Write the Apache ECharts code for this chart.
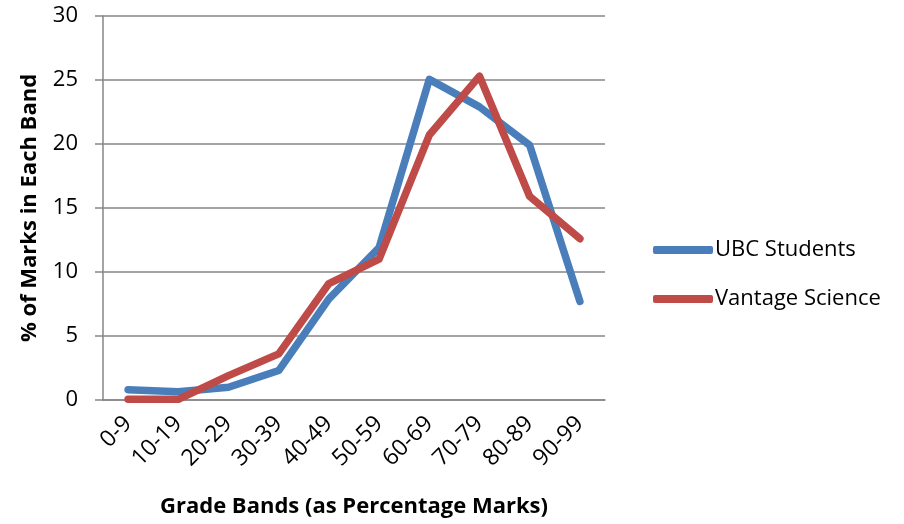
<!DOCTYPE html>
<html>
<head>
<meta charset="utf-8">
<script src="https://cdn.jsdelivr.net/npm/echarts@6/dist/echarts.min.js"></script>
<style>
  html, body { margin: 0; padding: 0; background: #fff; }
  #chart { width: 904px; height: 524px; }
</style>
</head>
<body>
<div id="chart"></div>
<script>
// grade bands along the x axis
const bands = ['0-9', '10-19', '20-29', '30-39', '40-49', '50-59', '60-69', '70-79', '80-89', '90-99']

// % of marks per band
const ubcStudents = [0.8, 0.65, 1.0, 2.3, 7.9, 11.9, 25.05, 22.9, 19.9, 7.7]
const vantageScience = [0.05, 0.05, 1.9, 3.6, 9.1, 11.0, 20.7, 25.3, 15.9, 12.6]

const yTicks = [0, 5, 10, 15, 20, 25, 30]

const gridColor = '#868686'
const font = '"Open Sans", Lato, sans-serif'

const chart = echarts.init(document.getElementById('chart'))

const lineSeries = (name, data, color) => ({
  name,
  type: 'line',
  data,
  symbol: 'none',
  smooth: false,
  animation: false,
  itemStyle: { color },
  lineStyle: { color, width: 7.5, cap: 'round', join: 'round' }
})

chart.setOption({
  animation: false,
  grid: { left: 103, right: 299, top: 16, bottom: 124, outerBoundsMode: 'none' },
  legend: {
    orient: 'vertical',
    left: 648,
    top: 234,
    itemWidth: 60,
    itemHeight: 8,
    itemGap: 27,
    icon: 'roundRect',
    textStyle: { fontFamily: font, fontSize: 22, color: '#000', padding: [0, 0, 0, -3] },
    data: ['UBC Students', 'Vantage Science']
  },
  xAxis: {
    type: 'category',
    data: bands,
    boundaryGap: true,
    name: 'Grade Bands (as Percentage Marks)',
    nameLocation: 'middle',
    nameGap: 96,
    nameTextStyle: { fontFamily: font, fontSize: 22, fontWeight: 'bold', color: '#000' },
    axisLine: { lineStyle: { color: gridColor, width: 1.5 } },
    axisTick: { show: false },
    axisLabel: { rotate: 45, margin: 20, fontFamily: font, fontSize: 23, color: '#000', interval: 0 }
  },
  yAxis: {
    type: 'value',
    min: yTicks[0],
    max: yTicks[yTicks.length - 1],
    interval: 5,
    name: '% of Marks in Each Band',
    nameLocation: 'middle',
    nameGap: 62,
    nameTextStyle: { fontFamily: font, fontSize: 22, fontWeight: 'bold', color: '#000' },
    axisLine: { show: true, lineStyle: { color: gridColor, width: 1.5 } },
    axisTick: { show: true, length: 8, lineStyle: { color: gridColor, width: 1.5 } },
    axisLabel: { margin: 25, fontFamily: font, fontSize: 22, color: '#000' },
    splitLine: { lineStyle: { color: gridColor, width: 1.5 } }
  },
  series: [
    lineSeries('UBC Students', ubcStudents, '#4A7EBB'),
    lineSeries('Vantage Science', vantageScience, '#BE4B48')
  ]
})
</script>
</body>
</html>
